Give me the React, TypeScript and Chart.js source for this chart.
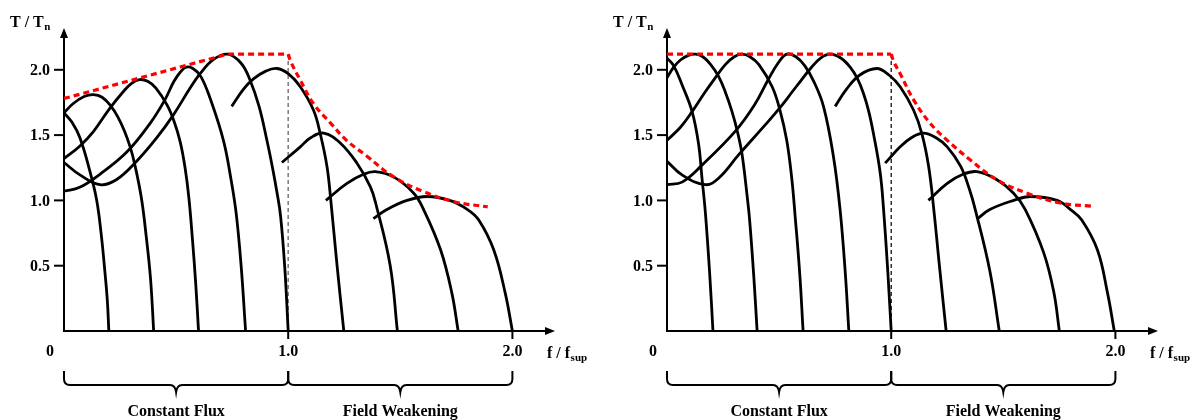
import React, { useEffect, useRef } from "react";
import { Chart, registerables } from "chart.js";

Chart.register(...registerables);

type Pt = [number, number];

// ---------- axes / labels ----------
const Y_TICKS = [0.5, 1.0, 1.5, 2.0];
const Y_TICK_LABELS = ["0.5", "1.0", "1.5", "2.0"];
const X_TICKS = [0, 1.0, 2.0];
const X_TICK_LABELS = ["0", "1.0", "2.0"];
const X_MAX = 2.19;
const Y_MAX = 2.32;
const REGION_BOUNDS = [0, 1.0, 2.0];
const REGION_LABELS = ["Constant Flux", "Field Weakening"];
const BASE_LINE: Pt[] = [[1.0, 0], [1.0, 2.12]];

// ---------- left panel: torque curves (f/fsup, T/Tn) ----------
const L_C02: Pt[] = [[0, 1.67], [0.035, 1.6], [0.071, 1.48], [0.116, 1.22], [0.146, 1.0], [0.166, 0.74], [0.181, 0.48], [0.193, 0.24], [0.2, 0]];
const L_C04: Pt[] = [[0, 1.67], [0.04, 1.74], [0.09, 1.795], [0.131, 1.81], [0.17, 1.79], [0.21, 1.72], [0.24, 1.64], [0.27, 1.53], [0.295, 1.41], [0.315, 1.28], [0.345, 1.02], [0.367, 0.72], [0.386, 0.4], [0.4, 0]];
const L_C06: Pt[] = [[0, 1.32], [0.07, 1.415], [0.131, 1.527], [0.205, 1.707], [0.265, 1.834], [0.3, 1.895], [0.337, 1.925], [0.375, 1.91], [0.41, 1.86], [0.46, 1.73], [0.49, 1.61], [0.518, 1.45], [0.54, 1.25], [0.557, 1.02], [0.573, 0.7], [0.588, 0.35], [0.6, 0]];
const L_C08: Pt[] = [[0, 1.07], [0.07, 1.1], [0.16, 1.2], [0.28, 1.37], [0.384, 1.59], [0.45, 1.77], [0.49, 1.91], [0.52, 1.985], [0.545, 2.02], [0.575, 2.01], [0.61, 1.95], [0.652, 1.78], [0.711, 1.46], [0.745, 1.16], [0.768, 0.9], [0.79, 0.5], [0.81, 0]];
const L_C10: Pt[] = [[0, 1.29], [0.071, 1.195], [0.16, 1.12], [0.235, 1.16], [0.324, 1.3], [0.414, 1.48], [0.488, 1.655], [0.5625, 1.86], [0.607, 1.97], [0.667, 2.08], [0.73, 2.12], [0.79, 2.05], [0.83, 1.92], [0.87, 1.72], [0.905, 1.46], [0.93, 1.25], [0.95, 1.06], [0.966, 0.88], [0.985, 0.48], [1.0, 0]];
const L_C125: Pt[] = [[0.748, 1.72], [0.8, 1.85], [0.845, 1.93], [0.9, 1.99], [0.95, 2.01], [1.0, 1.97], [1.054, 1.87], [1.113, 1.69], [1.143, 1.51], [1.173, 1.26], [1.19, 1.0], [1.218, 0.5], [1.248, 0]];
const L_C15: Pt[] = [[0.972, 1.29], [1.054, 1.41], [1.1, 1.48], [1.158, 1.515], [1.232, 1.44], [1.307, 1.285], [1.366, 1.106], [1.39, 0.98], [1.455, 0.5], [1.487, 0]];
const L_C175: Pt[] = [[1.168, 1.0], [1.262, 1.13], [1.336, 1.2], [1.388, 1.22], [1.47, 1.18], [1.56, 1.055], [1.604, 0.93], [1.68, 0.62], [1.73, 0.29], [1.758, 0]];
const L_C20: Pt[] = [[1.38, 0.86], [1.44, 0.93], [1.53, 1.0], [1.62, 1.03], [1.72, 1.0], [1.8, 0.93], [1.85, 0.85], [1.917, 0.62], [1.968, 0.29], [2.0, 0]];
const L_ENV_CF: Pt[] = [[0, 1.78], [0.73, 2.12], [1.0, 2.12]];
const L_ENV_FW: Pt[] = [[1.0, 2.12], [1.012, 2.06], [1.054, 1.92], [1.113, 1.74], [1.19, 1.59], [1.26, 1.46], [1.35, 1.34], [1.47, 1.18], [1.6, 1.07], [1.74, 0.99], [1.89, 0.95]];

// ---------- right panel ----------
const R_C02: Pt[] = [[0, 2.09], [0.03, 2.03], [0.067, 1.885], [0.112, 1.68], [0.141, 1.43], [0.156, 1.17], [0.171, 0.91], [0.19, 0.45], [0.205, 0]];
const R_C04: Pt[] = [[0, 1.94], [0.03, 2.02], [0.06, 2.075], [0.095, 2.11], [0.127, 2.12], [0.16, 2.1], [0.195, 2.04], [0.23, 1.95], [0.26, 1.83], [0.29, 1.68], [0.315, 1.52], [0.335, 1.35], [0.357, 1.04], [0.368, 0.86], [0.387, 0.42], [0.402, 0]];
const R_C06: Pt[] = [[0, 1.46], [0.06, 1.56], [0.112, 1.68], [0.17, 1.83], [0.216, 1.94], [0.26, 2.04], [0.3, 2.1], [0.335, 2.12], [0.37, 2.1], [0.41, 2.04], [0.469, 1.87], [0.504, 1.69], [0.534, 1.46], [0.557, 1.16], [0.571, 0.89], [0.592, 0.44], [0.607, 0]];
const R_C08: Pt[] = [[0, 1.12], [0.067, 1.14], [0.156, 1.27], [0.305, 1.53], [0.39, 1.73], [0.45, 1.92], [0.495, 2.05], [0.534, 2.12], [0.575, 2.1], [0.615, 2.03], [0.655, 1.91], [0.698, 1.72], [0.742, 1.34], [0.772, 0.93], [0.795, 0.45], [0.811, 0]];
const R_C10: Pt[] = [[0, 1.3], [0.067, 1.195], [0.171, 1.12], [0.23, 1.17], [0.32, 1.35], [0.439, 1.58], [0.504, 1.71], [0.558, 1.83], [0.594, 1.91], [0.64, 2.01], [0.685, 2.09], [0.728, 2.12], [0.775, 2.09], [0.817, 2.02], [0.85, 1.93], [0.876, 1.82], [0.9, 1.68], [0.921, 1.51], [0.951, 1.21], [0.966, 0.93], [0.985, 0.45], [1.0, 0]];
const R_C125: Pt[] = [[0.75, 1.72], [0.8, 1.85], [0.86, 1.96], [0.936, 2.01], [0.99, 1.96], [1.04, 1.87], [1.1, 1.69], [1.137, 1.51], [1.167, 1.26], [1.19, 0.93], [1.215, 0.5], [1.245, 0]];
const R_C15: Pt[] = [[0.973, 1.285], [1.04, 1.41], [1.09, 1.48], [1.144, 1.515], [1.2, 1.48], [1.25, 1.41], [1.31, 1.26], [1.35, 1.08], [1.375, 0.93], [1.44, 0.46], [1.482, 0]];
const R_C175: Pt[] = [[1.166, 1.0], [1.25, 1.13], [1.32, 1.2], [1.383, 1.22], [1.47, 1.16], [1.546, 1.055], [1.598, 0.93], [1.68, 0.6], [1.725, 0.3], [1.75, 0]];
const R_C20: Pt[] = [[1.385, 0.86], [1.44, 0.93], [1.546, 1.0], [1.62, 1.03], [1.74, 1.0], [1.8, 0.93], [1.85, 0.85], [1.92, 0.62], [1.965, 0.29], [1.995, 0]];
const R_ENV_CF: Pt[] = [[0, 2.12], [1.0, 2.12]];
const R_ENV_FW: Pt[] = [[1.0, 2.12], [1.012, 2.06], [1.04, 1.97], [1.1, 1.77], [1.174, 1.59], [1.25, 1.46], [1.353, 1.31], [1.47, 1.16], [1.606, 1.055], [1.754, 0.98], [1.894, 0.955]];

const LEFT_CURVES = [L_C02, L_C04, L_C06, L_C08, L_C10, L_C125, L_C15, L_C175, L_C20];
const RIGHT_CURVES = [R_C02, R_C04, R_C06, R_C08, R_C10, R_C125, R_C15, R_C175, R_C20];

const FONT = '"Liberation Serif", "Times New Roman", serif';
const CANVAS_W = 595;
const CANVAS_H = 420;

function toXY(p: Pt[]) {
  return p.map(([x, y]) => ({ x, y }));
}

function drawSub(ctx: CanvasRenderingContext2D, x: number, y: number, main: string, sub: string) {
  ctx.font = `bold 16px ${FONT}`;
  ctx.textAlign = "left";
  ctx.textBaseline = "alphabetic";
  ctx.fillText(main, x, y);
  const w = ctx.measureText(main).width;
  ctx.font = `bold 11px ${FONT}`;
  ctx.fillText(sub, x + w + 0.5, y + 3);
}

function drawBrace(ctx: CanvasRenderingContext2D, xa: number, xb: number, yTop: number, yMid: number, yTip: number) {
  const xm = (xa + xb) / 2;
  const r = 6;
  ctx.beginPath();
  ctx.moveTo(xa, yTop);
  ctx.lineTo(xa, yMid - r);
  ctx.quadraticCurveTo(xa, yMid, xa + r, yMid);
  ctx.lineTo(xm - r, yMid);
  ctx.quadraticCurveTo(xm - 1, yMid, xm, yTip);
  ctx.quadraticCurveTo(xm + 1, yMid, xm + r, yMid);
  ctx.lineTo(xb - r, yMid);
  ctx.quadraticCurveTo(xb, yMid, xb, yMid - r);
  ctx.lineTo(xb, yTop);
  ctx.stroke();
}

const decorPlugin = {
  id: "decor",
  beforeDatasetsDraw(chart: any) {
    const { ctx } = chart;
    const xs = chart.scales.x;
    const ys = chart.scales.y;
    const x0 = xs.getPixelForValue(0);
    const y0 = ys.getPixelForValue(0);
    const xe = xs.getPixelForValue(X_MAX);
    const yt = ys.getPixelForValue(Y_MAX);
    ctx.save();
    ctx.strokeStyle = "#000";
    ctx.fillStyle = "#000";
    ctx.lineWidth = 2;
    ctx.beginPath();
    ctx.moveTo(x0, y0);
    ctx.lineTo(x0, yt + 8);
    ctx.moveTo(x0 - 1, y0);
    ctx.lineTo(xe - 8, y0);
    ctx.stroke();
    // arrow heads
    ctx.beginPath();
    ctx.moveTo(x0, yt);
    ctx.lineTo(x0 - 4, yt + 10);
    ctx.lineTo(x0 + 4, yt + 10);
    ctx.closePath();
    ctx.fill();
    ctx.beginPath();
    ctx.moveTo(xe, y0);
    ctx.lineTo(xe - 10, y0 - 4);
    ctx.lineTo(xe - 10, y0 + 4);
    ctx.closePath();
    ctx.fill();
    // y ticks
    ctx.font = `bold 16px ${FONT}`;
    ctx.textAlign = "right";
    ctx.textBaseline = "middle";
    Y_TICKS.forEach((v, i) => {
      const py = ys.getPixelForValue(v);
      ctx.beginPath();
      ctx.moveTo(x0 - 10, py);
      ctx.lineTo(x0, py);
      ctx.stroke();
      ctx.fillText(Y_TICK_LABELS[i], x0 - 14, py + 1);
    });
    // x ticks
    ctx.textAlign = "center";
    X_TICKS.forEach((v, i) => {
      const px = xs.getPixelForValue(v);
      if (v > 0) {
        ctx.beginPath();
        ctx.moveTo(px, y0);
        ctx.lineTo(px, y0 + 8);
        ctx.stroke();
        ctx.fillText(X_TICK_LABELS[i], px, y0 + 21);
      } else {
        ctx.fillText(X_TICK_LABELS[i], px - 14, y0 + 21);
      }
    });
    // axis titles
    drawSub(ctx, x0 - 54, yt - 1, "T / T", "n");
    drawSub(ctx, xe - 8, y0 + 27, "f / f", "sup");
    // braces
    ctx.lineWidth = 2;
    for (let i = 0; i < REGION_LABELS.length; i++) {
      const xa = xs.getPixelForValue(REGION_BOUNDS[i]);
      const xb = xs.getPixelForValue(REGION_BOUNDS[i + 1]);
      drawBrace(ctx, xa, xb, y0 + 40, y0 + 54, y0 + 61);
      ctx.font = `bold 16px ${FONT}`;
      ctx.textAlign = "center";
      ctx.textBaseline = "middle";
      ctx.fillText(REGION_LABELS[i], (xa + xb) / 2, y0 + 81);
    }
    ctx.restore();
  },
};

function buildConfig(curves: Pt[][], envCF: Pt[], envFW: Pt[], baseColor: string, baseWidth: number) {
  const datasets: any[] = [];
  datasets.push({
    data: toXY(envCF),
    borderColor: "#ff0000",
    borderWidth: 3.2,
    borderDash: [6, 4],
    tension: 0,
    pointRadius: 0,
    order: 0,
  });
  datasets.push({
    data: toXY(envFW),
    borderColor: "#ff0000",
    borderWidth: 3.2,
    borderDash: [6, 4],
    tension: 0.4,
    pointRadius: 0,
    order: 0,
  });
  curves.forEach((c) => {
    datasets.push({
      data: toXY(c),
      borderColor: "#000",
      borderWidth: 2.8,
      tension: 0.4,
      borderJoinStyle: "round",
      pointRadius: 0,
      order: 1,
    });
  });
  datasets.push({
    data: toXY(BASE_LINE),
    borderColor: baseColor,
    borderWidth: baseWidth,
    borderDash: [4, 3],
    tension: 0,
    pointRadius: 0,
    order: 2,
  });
  return {
    type: "line" as const,
    data: { datasets },
    options: {
      animation: false as const,
      responsive: false,
      devicePixelRatio: 1,
      events: [],
      layout: { padding: { left: 64, right: CANVAS_W - 555, top: 28, bottom: CANVAS_H - 331 } },
      plugins: { legend: { display: false }, tooltip: { enabled: false }, title: { display: false } },
      scales: {
        x: { type: "linear" as const, display: false, min: 0, max: X_MAX },
        y: { type: "linear" as const, display: false, min: 0, max: Y_MAX },
      },
    },
    plugins: [decorPlugin],
  };
}

function Panel(props: { curves: Pt[][]; envCF: Pt[]; envFW: Pt[]; baseColor: string; baseWidth: number; left: number }) {
  const ref = useRef<HTMLCanvasElement | null>(null);
  useEffect(() => {
    if (!ref.current) return;
    const chart = new Chart(ref.current, buildConfig(props.curves, props.envCF, props.envFW, props.baseColor, props.baseWidth) as any);
    return () => chart.destroy();
  }, []);
  return (
    <canvas
      ref={ref}
      width={CANVAS_W}
      height={CANVAS_H}
      style={{ position: "absolute", left: props.left, top: 0, width: CANVAS_W, height: CANVAS_H }}
    />
  );
}

export default function App() {
  return (
    <div style={{ position: "absolute", left: 0, top: 0, width: 1198, height: 420, background: "#fff", overflow: "hidden" }}>
      <Panel curves={LEFT_CURVES} envCF={L_ENV_CF} envFW={L_ENV_FW} baseColor="#808080" baseWidth={1.6} left={0} />
      <Panel curves={RIGHT_CURVES} envCF={R_ENV_CF} envFW={R_ENV_FW} baseColor="#000" baseWidth={1.2} left={603} />
    </div>
  );
}
